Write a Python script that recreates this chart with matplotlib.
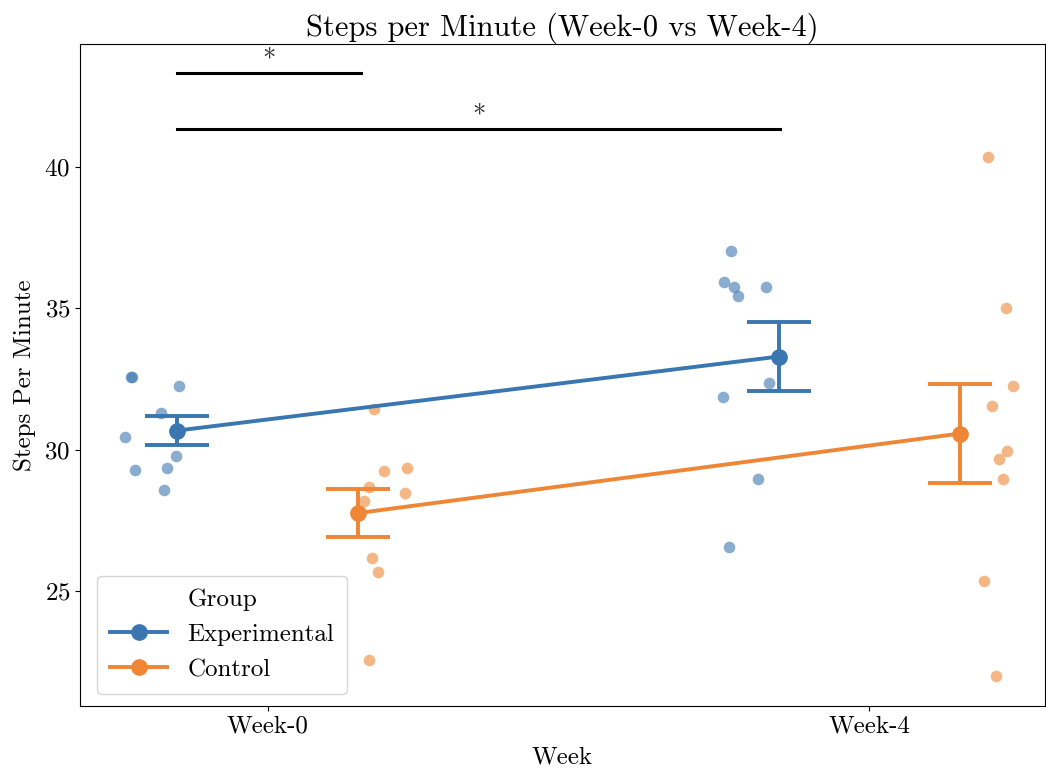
import numpy as np
import matplotlib
matplotlib.use("Agg")
import matplotlib.pyplot as plt
from matplotlib.lines import Line2D

plt.rcParams['font.family'] = ['cmr10', 'DejaVu Serif']
plt.rcParams['axes.formatter.use_mathtext'] = True

weeks = ["Week-0", "Week-4"]
groups = ["Experimental", "Control"]
colors = {"Experimental": "#3a76af", "Control": "#ef8636"}

# steps per minute
exp_w0 = [32.56, 32.56, 32.26, 31.30, 30.46, 29.76, 29.27, 29.37, 28.56]
ctl_w0 = [31.44, 29.26, 29.36, 28.68, 28.47, 26.17, 25.67, 22.57, 28.20]
exp_w4 = [37.04, 35.95, 35.75, 35.45, 35.74, 32.36, 31.86, 28.96, 26.57]
ctl_w4 = [40.35, 35.02, 32.25, 31.56, 29.97, 29.66, 28.96, 25.37, 21.98]

# horizontal jitter of the strip points (category units)
jit_exp_w0 = [-0.028, -0.026, 0.052, 0.023, -0.037, 0.047, -0.021, 0.032, 0.028]
jit_ctl_w0 = [-0.024, -0.007, 0.031, -0.032, 0.029, -0.026, -0.016, -0.032, -0.040]
jit_exp_w4 = [-0.030, -0.041, -0.025, -0.019, 0.028, 0.033, -0.044, 0.015, -0.034]
jit_ctl_w4 = [-0.003, 0.028, 0.039, 0.004, 0.029, 0.016, 0.022, -0.010, 0.011]

data = {"Experimental": [exp_w0, exp_w4], "Control": [ctl_w0, ctl_w4]}
jitter = {"Experimental": [jit_exp_w0, jit_exp_w4], "Control": [jit_ctl_w0, jit_ctl_w4]}

# significance brackets: (x start, x end, height)
sig_pairs = [(-0.15, 0.155, 43.33), (-0.15, 0.852, 41.34)]
sig_labels = ["*", "*"]

fig = plt.figure(figsize=(10.46, 7.75), dpi=100)
ax = fig.add_axes([0.0765, 0.089, 0.9225, 0.854])

strip_dodge = {"Experimental": -0.2, "Control": 0.2}
point_dodge = {"Experimental": -0.15, "Control": 0.15}

for g in groups:
    c = colors[g]
    for i, vals in enumerate(data[g]):
        xs = i + strip_dodge[g] + np.array(jitter[g][i])
        ax.scatter(xs, vals, s=70, color=c, alpha=0.6, linewidths=0, zorder=2)

    means = [np.mean(v) for v in data[g]]
    ses = [np.std(v, ddof=1) / np.sqrt(len(v)) for v in data[g]]
    xp = np.arange(len(weeks)) + point_dodge[g]
    ax.plot(xp, means, color=c, lw=2.8, zorder=3)
    ax.errorbar(xp, means, yerr=ses, fmt='o', color=c, ms=11, elinewidth=2.8,
                capsize=23, capthick=2.8, zorder=4)

for (x0, x1, h), lab in zip(sig_pairs, sig_labels):
    ax.plot([x0, x1], [h, h], color='black', lw=2.2, zorder=5)
    ax.text((x0 + x1) / 2, h + 0.05, lab, ha='center', va='bottom', fontsize=19,
            color='#333333')

ax.set_xticks(range(len(weeks)))
ax.set_xticklabels(weeks, fontsize=18)
ax.set_yticks([25, 30, 35, 40])
ax.tick_params(axis='y', labelsize=18)
ax.set_xlim(-0.312, 1.292)
ax.set_ylim(20.93, 44.35)
ax.set_xlabel("Week", fontsize=18, labelpad=6)
ax.set_ylabel("Steps Per Minute", fontsize=18, labelpad=6)
ax.set_title("Steps per Minute (Week-0 vs Week-4)", fontsize=22, pad=5)

handles = [Line2D([0], [0], color=colors[g], lw=2.8, marker='o', ms=11) for g in groups]
leg = ax.legend(handles, groups, title="Group", loc='lower left', fontsize=18,
                title_fontsize=18, handlelength=2.3, borderpad=0.5,
                labelspacing=0.5, bbox_to_anchor=(0.005, 0.0))

fig.savefig("out.png", dpi=100)
